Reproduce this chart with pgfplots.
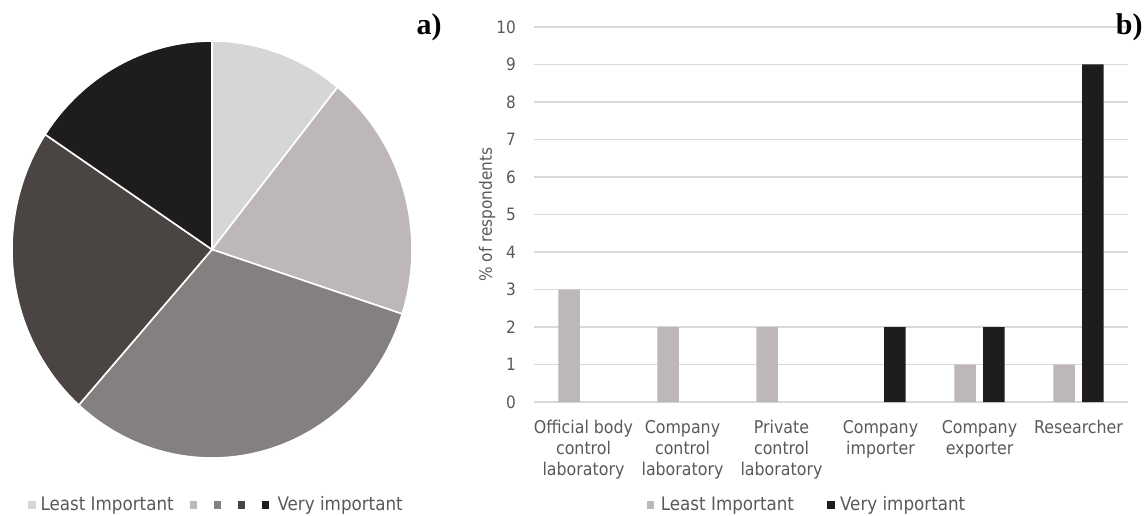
\documentclass[border=0pt]{standalone}
\usepackage{pgfplots}
\pgfplotsset{compat=1.18}
\usepackage{fontspec}
\setmainfont{DejaVu Sans Condensed}
\newfontfamily\timesf{Liberation Serif}
\definecolor{c1}{HTML}{D6D6D6}
\definecolor{c2}{HTML}{BDB7B7}
\definecolor{c3}{HTML}{858080}
\definecolor{c4}{HTML}{4A4443}
\definecolor{c5}{HTML}{1E1C1C}
\definecolor{txt}{HTML}{595959}
\definecolor{gridc}{HTML}{D9D9D9}
\begin{document}
\begin{tikzpicture}[x=1pt,y=1pt]
\useasboundingbox (0,0) rectangle (573,257.5);
% ---- a) pie ----
\begin{axis}[at={(6pt,28.5pt)}, anchor=south west, scale only axis,
  width=200pt, height=208.5pt, hide axis,
  xmin=-1, xmax=1, ymin=-1, ymax=1, clip=false,
  legend style={at={(0.025,-0.113)}, anchor=west, draw=none, fill=none,
    font=\fontsize{9.3}{10}\selectfont, text=txt, legend columns=-1,
    nodes={inner xsep=0pt},
    /tikz/column 1/.style={column sep=2.3pt},
    /tikz/column 2/.style={column sep=8pt},
    /tikz/column 3/.style={column sep=0pt},
    /tikz/column 4/.style={column sep=7.2pt},
    /tikz/column 5/.style={column sep=0pt},
    /tikz/column 6/.style={column sep=7.2pt},
    /tikz/column 7/.style={column sep=0pt},
    /tikz/column 8/.style={column sep=7.2pt},
    /tikz/column 9/.style={column sep=4.2pt}},
  legend image code/.code={\fill[#1,draw=none] (0pt,-1.9pt) rectangle (3.8pt,1.9pt);}
]
% slice shares (%): 10.8, 19.2, 31.6, 22.7, 15.7 -> angles clockwise from top
\addplot[fill=c1, draw=white, line width=0.8pt, domain=0:38.88, samples=40] ({sin(x)},{cos(x)}) -- (axis cs:0,0) -- cycle;
\addlegendentry{Least Important}
\addplot[fill=c2, draw=white, line width=0.8pt, domain=38.88:108, samples=50] ({sin(x)},{cos(x)}) -- (axis cs:0,0) -- cycle;
\addlegendentry{}
\addplot[fill=c3, draw=white, line width=0.8pt, domain=108:221.76, samples=70] ({sin(x)},{cos(x)}) -- (axis cs:0,0) -- cycle;
\addlegendentry{}
\addplot[fill=c4, draw=white, line width=0.8pt, domain=221.76:303.48, samples=55] ({sin(x)},{cos(x)}) -- (axis cs:0,0) -- cycle;
\addlegendentry{}
\addplot[fill=c5, draw=white, line width=0.8pt, domain=303.48:360, samples=40] ({sin(x)},{cos(x)}) -- (axis cs:0,0) -- cycle;
\addlegendentry{Very important}
\end{axis}
% ---- b) bars ----
\begin{axis}[at={(267pt,56.5pt)}, anchor=south west, scale only axis,
  width=297pt, height=187.5pt,
  ybar, bar width=0.217,
  xmin=-0.5, xmax=5.5, ymin=0, ymax=10,
  ytick={0,1,...,10}, xtick={0,1,2,3,4,5},
  xticklabels={{Official body\\control\\laboratory},{Company\\control\\laboratory},{Private\\control\\laboratory},{Company\\importer},{Company\\exporter},{Researcher}},
  xticklabel style={align=center, font=\fontsize{8.8}{10.5}\selectfont, text=txt, yshift=-5.5pt},
  yticklabel style={font=\fontsize{8.5}{10}\selectfont, text=txt, xshift=-5.5pt},
  /pgf/number format/assume math mode=true,
  axis line style={draw=none}, major tick length=0pt,
  ymajorgrids, grid style={gridc, line width=0.75pt},
  ylabel={\% of respondents},
  ylabel style={at={(axis description cs:-0.079,0.5)}, anchor=center, font=\fontsize{8.5}{10}\selectfont, text=txt},
  legend style={at={(0.179,-0.275)}, anchor=west, draw=none, fill=none,
    font=\fontsize{9.3}{10}\selectfont, text=txt, legend columns=-1,
    nodes={inner xsep=0pt},
    /tikz/column 1/.style={column sep=3.3pt},
    /tikz/column 2/.style={column sep=16.5pt},
    /tikz/column 3/.style={column sep=2.8pt}},
  legend image code/.code={\fill[#1,draw=none] (0pt,-1.9pt) rectangle (3.8pt,1.9pt);}
]
\addplot[fill=c2, draw=none, bar shift=-0.146] coordinates {(0,3) (1,2) (2,2) (4,1) (5,1)};
\addlegendentry{Least Important}
\addplot[fill=c5, draw=none, bar shift=0.146] coordinates {(3,2) (4,2) (5,9)};
\addlegendentry{Very important}
\end{axis}
\node[anchor=base east, inner sep=0pt, font=\timesf\bfseries\fontsize{15}{15}\selectfont] at (221,240) {a)};
\node[anchor=base east, inner sep=0pt, font=\timesf\bfseries\fontsize{15}{15}\selectfont] at (571.5,240) {b)};
\end{tikzpicture}
\end{document}
